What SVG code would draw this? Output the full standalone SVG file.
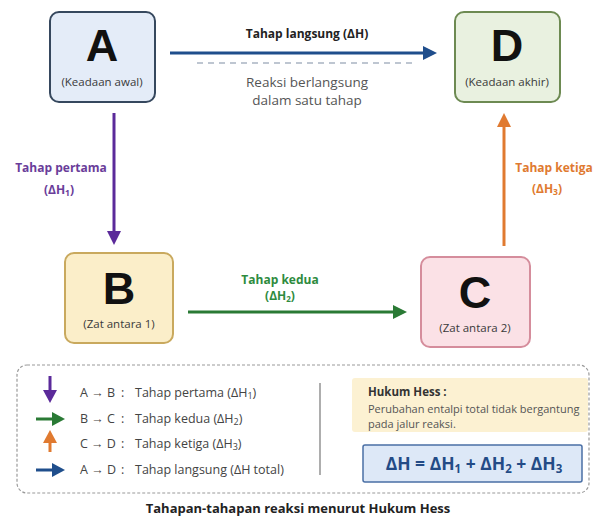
<svg xmlns="http://www.w3.org/2000/svg" width="596" height="519" viewBox="0 0 596 519">
<style>
  text { font-family: "Open Sans", "Noto Sans", "Liberation Sans", sans-serif; }
  .big { font-family: "Liberation Sans", Arial, sans-serif; font-weight: bold; font-size: 45px; fill: #111; text-anchor: middle; }
  .sub { font-size: 11.5px; fill: #3a3a3a; text-anchor: middle; }
  .lbl { font-size: 12px; font-weight: bold; text-anchor: middle; }
  .leg { font-size: 12.5px; fill: #444; }
  .note { font-size: 11px; fill: #555; }
</style>
<rect width="596" height="519" fill="#ffffff"/>

<g id="connectors">
  <!-- A to D direct -->
  <line x1="170" y1="53" x2="425" y2="53" stroke="#1f4e8c" stroke-width="3"/>
  <polygon points="437,53 423,46 423,60" fill="#1f4e8c"/>
  <line x1="197" y1="63" x2="417" y2="63" stroke="#a9b4c2" stroke-width="1.5" stroke-dasharray="6,5"/>
  <text class="lbl" x="307" y="38" fill="#222" font-size="15">Tahap langsung (ΔH)</text>
  <text x="307" y="87" font-size="13.5" fill="#555" text-anchor="middle">Reaksi berlangsung</text>
  <text x="307" y="105" font-size="13.5" fill="#555" text-anchor="middle">dalam satu tahap</text>

  <!-- A to B -->
  <line x1="114" y1="113" x2="114" y2="233" stroke="#5b2a9a" stroke-width="3"/>
  <polygon points="114,245 107,231 121,231" fill="#5b2a9a"/>
  <text class="lbl" x="61" y="172" fill="#6a3d9a">Tahap pertama</text>
  <text class="lbl" x="59" y="194" fill="#6a3d9a">(ΔH<tspan font-size="8.5" dy="2">1</tspan><tspan dy="-2">)</tspan></text>

  <!-- B to C -->
  <line x1="188" y1="312" x2="395" y2="312" stroke="#2a7a35" stroke-width="3"/>
  <polygon points="407,312 393,305 393,319" fill="#2a7a35"/>
  <text class="lbl" x="280" y="284" fill="#2e8b3e" font-size="10.5">Tahap kedua</text>
  <text class="lbl" x="280" y="300" fill="#2e8b3e" font-size="10.5">(ΔH<tspan font-size="8" dy="2">2</tspan><tspan dy="-2">)</tspan></text>

  <!-- C to D -->
  <line x1="504" y1="246" x2="504" y2="125" stroke="#e07a30" stroke-width="3"/>
  <polygon points="504,113 497,127 511,127" fill="#e07a30"/>
  <text class="lbl" x="554" y="172" fill="#e07a30" font-size="11.5">Tahap ketiga</text>
  <text class="lbl" x="547" y="193" fill="#e07a30">(ΔH<tspan font-size="8.5" dy="2">3</tspan><tspan dy="-2">)</tspan></text>
</g>

<g id="node-A">
  <rect x="50" y="12" width="105" height="90" rx="9" fill="#e4ecf8" stroke="#36485e" stroke-width="2"/>
  <text class="big" x="102" y="61">A</text>
  <text class="sub" x="102" y="86">(Keadaan awal)</text>
</g>
<g id="node-D">
  <rect x="455" y="12" width="105" height="90" rx="9" fill="#e9f1e0" stroke="#6d8a52" stroke-width="2"/>
  <text class="big" x="507" y="61">D</text>
  <text class="sub" x="507" y="86">(Keadaan akhir)</text>
</g>
<g id="node-B">
  <rect x="65" y="253" width="108" height="90" rx="9" fill="#fbeec9" stroke="#c9a95e" stroke-width="2"/>
  <text class="big" x="119" y="304">B</text>
  <text class="sub" x="119" y="328">(Zat antara 1)</text>
</g>
<g id="node-C">
  <rect x="421" y="257" width="109" height="90" rx="9" fill="#fbe1e6" stroke="#d58d9c" stroke-width="2"/>
  <text class="big" x="475" y="308">C</text>
  <text class="sub" x="475" y="332">(Zat antara 2)</text>
</g>

<g id="legend">
  <rect x="17" y="365" width="572" height="128" rx="10" fill="none" stroke="#9a9a9a" stroke-width="1.2" stroke-dasharray="3,2"/>
  <!-- purple down -->
  <line x1="50" y1="376" x2="50" y2="392" stroke="#5b2a9a" stroke-width="3"/>
  <polygon points="50,403 43,390 57,390" fill="#5b2a9a"/>
  <!-- green right -->
  <line x1="36" y1="419" x2="54" y2="419" stroke="#2a7a35" stroke-width="3"/>
  <polygon points="65,419 52,412 52,426" fill="#2a7a35"/>
  <!-- orange up -->
  <line x1="50" y1="452" x2="50" y2="440" stroke="#e07a30" stroke-width="3"/>
  <polygon points="50,430 43,443 57,443" fill="#e07a30"/>
  <!-- blue right -->
  <line x1="36" y1="470" x2="54" y2="470" stroke="#1f4e8c" stroke-width="3"/>
  <polygon points="65,470 52,463 52,477" fill="#1f4e8c"/>

  <text class="leg" x="80" y="397">A → B</text><text class="leg" x="121" y="397">:</text>
  <text class="leg" x="135" y="397">Tahap pertama (ΔH<tspan font-size="9" dy="2">1</tspan><tspan dy="-2">)</tspan></text>
  <text class="leg" x="80" y="423">B → C</text><text class="leg" x="121" y="423">:</text>
  <text class="leg" x="135" y="423">Tahap kedua (ΔH<tspan font-size="9" dy="2">2</tspan><tspan dy="-2">)</tspan></text>
  <text class="leg" x="80" y="448">C → D</text><text class="leg" x="121" y="448">:</text>
  <text class="leg" x="135" y="448">Tahap ketiga (ΔH<tspan font-size="9" dy="2">3</tspan><tspan dy="-2">)</tspan></text>
  <text class="leg" x="80" y="474">A → D</text><text class="leg" x="121" y="474">:</text>
  <text class="leg" x="135" y="474">Tahap langsung (ΔH total)</text>

  <line x1="320" y1="383" x2="320" y2="475" stroke="#777" stroke-width="1.2"/>

  <rect x="352" y="378" width="236" height="54" rx="3" fill="#fcf1d2"/>
  <text x="368" y="396" font-size="11.5" font-weight="bold" fill="#333">Hukum Hess :</text>
  <text class="note" x="368" y="413">Perubahan entalpi total tidak bergantung</text>
  <text class="note" x="368" y="428">pada jalur reaksi.</text>

  <rect x="363" y="445" width="219" height="37" rx="2" fill="#dde8f7" stroke="#4a6fa5" stroke-width="1.5"/>
  <text x="474" y="470" font-size="17.5" font-weight="bold" fill="#234b86" text-anchor="middle">ΔH = ΔH<tspan font-size="11.5" dy="3">1</tspan><tspan dy="-3"> + ΔH</tspan><tspan font-size="11.5" dy="3">2</tspan><tspan dy="-3"> + ΔH</tspan><tspan font-size="11.5" dy="3">3</tspan></text>
</g>

<text x="298" y="513" font-size="13" font-weight="bold" fill="#222" text-anchor="middle">Tahapan-tahapan reaksi menurut Hukum Hess</text>
</svg>
